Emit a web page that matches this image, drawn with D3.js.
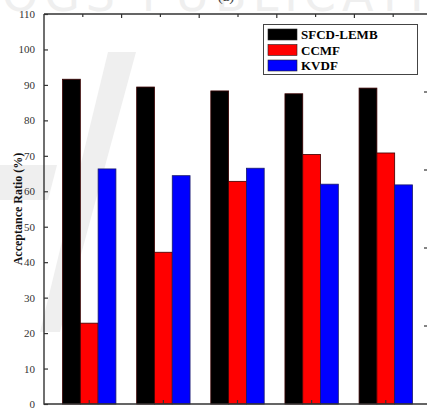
<!DOCTYPE html>
<html>
<head>
<meta charset="utf-8">
<script src="https://cdn.jsdelivr.net/npm/d3@7"></script>
<style>
  body { margin: 0; background: #fff; }
  svg { display: block; }
</style>
</head>
<body>
<svg id="svg" width="427" height="410"></svg>
<script>
// data
const groups = ['g1', 'g2', 'g3', 'g4', 'g5'];
const series = ['SFCD-LEMB', 'CCMF', 'KVDF'];
const colors = ['#000000', '#ff0000', '#0000ff'];
const sfcdLemb = [91.6, 89.4, 88.3, 87.5, 89.1];
const ccmf = [22.8, 42.8, 62.8, 70.4, 70.8];
const kvdf = [66.3, 64.4, 66.5, 62.0, 61.8];
const yTicks = [0, 10, 20, 30, 40, 50, 60, 70, 80, 90, 100, 110];

const values = [sfcdLemb, ccmf, kvdf];

const svg = d3.select('#svg');
const margin = { left: 44, top: 14, right: 431, bottom: 404 };

// faint watermark in the background
const wm = svg.append('g').attr('fill', '#efefef');
wm.append('path')
  .attr('d', 'M108,52 L136,52 L60,332 L40,332 Z');
wm.append('path')
  .attr('d', 'M0,165 L57,165 L48,200 L0,200 Z');
wm.append('text')
  .attr('x', 2).attr('y', 11)
  .attr('font-family', 'DejaVu Sans, sans-serif')
  .attr('font-size', 46)
  .attr('letter-spacing', 6)
  .text('OGS PUBLICATIONS');

// "(a)" label, cut off at the top
svg.append('text')
  .attr('x', 226).attr('y', 1)
  .attr('text-anchor', 'middle')
  .attr('font-family', 'Liberation Serif, serif')
  .attr('font-size', 15)
  .attr('fill', '#444')
  .text('(a)');

const y = d3.scaleLinear().domain([0, 110]).range([margin.bottom, margin.top]);
const x0 = d3.scaleBand().domain(groups)
  .range([margin.left, margin.right])
  .paddingInner(0.28).paddingOuter(0.25);
const x1 = d3.scaleBand().domain(series).range([0, x0.bandwidth()]);

// bars
const g = svg.append('g');
groups.forEach((grp, i) => {
  series.forEach((s, j) => {
    g.append('rect')
      .attr('x', x0(grp) + x1(s))
      .attr('y', y(values[j][i]))
      .attr('width', x1.bandwidth())
      .attr('height', y(0) - y(values[j][i]))
      .attr('fill', colors[j])
      .attr('stroke', j === 2 ? '#1a1a6a' : '#3a0000')
      .attr('stroke-width', 0.8);
  });
});

const axisColor = '#333';

// left axis
const yAxis = svg.append('g')
  .attr('transform', `translate(${margin.left},0)`)
  .call(d3.axisLeft(y).tickValues(yTicks).tickSize(-4).tickPadding(9));
yAxis.select('.domain').remove();
yAxis.selectAll('line').attr('stroke', axisColor).attr('stroke-width', 1.2);
yAxis.selectAll('text')
  .attr('font-family', 'Liberation Serif, serif')
  .attr('font-size', 11)
  .attr('fill', '#333');

// bottom ticks at group centres
const xAxis = svg.append('g')
  .attr('transform', `translate(0,${margin.bottom})`)
  .call(d3.axisBottom(x0).tickSize(-4).tickFormat(''));
xAxis.select('.domain').remove();
xAxis.selectAll('line').attr('stroke', axisColor).attr('stroke-width', 1.2);

// top axis with its own minor/major ticks
const xt = d3.scaleLinear().domain([0, 10]).range([margin.left, 432]);
const topAxis = svg.append('g').attr('transform', `translate(0,${margin.top})`);
topAxis.selectAll('line')
  .data(d3.range(1, 10))
  .enter().append('line')
  .attr('x1', d => xt(d)).attr('x2', d => xt(d))
  .attr('y1', 0).attr('y2', d => d % 2 === 0 ? 4 : 3)
  .attr('stroke', axisColor).attr('stroke-width', 1.2);

// right axis (just out of frame) with its ticks
const yr = d3.scaleLinear().domain([0, 5]).range([margin.bottom, margin.top]);
svg.append('g').selectAll('line')
  .data(d3.range(1, 5))
  .enter().append('line')
  .attr('x1', 424).attr('x2', 431)
  .attr('y1', d => yr(d)).attr('y2', d => yr(d))
  .attr('stroke', axisColor).attr('stroke-width', 1.2);

// frame
svg.append('path')
  .attr('d', `M${margin.left},${margin.top} V${margin.bottom} H431 M${margin.left},${margin.top} H431`)
  .attr('fill', 'none')
  .attr('stroke', axisColor)
  .attr('stroke-width', 1.4);

// y label
svg.append('text')
  .attr('transform', 'translate(22,209) rotate(-90)')
  .attr('text-anchor', 'middle')
  .attr('font-family', 'Liberation Serif, serif')
  .attr('font-weight', 'bold')
  .attr('font-size', 12)
  .attr('fill', '#111')
  .text('Acceptance Ratio (%)');

// legend
const legend = svg.append('g');
legend.append('rect')
  .attr('x', 263.5).attr('y', 24.5)
  .attr('width', 154).attr('height', 50)
  .attr('fill', '#fff')
  .attr('stroke', '#444').attr('stroke-width', 1);
series.forEach((s, j) => {
  const ly = 29 + j * 15.5;
  legend.append('rect')
    .attr('x', 268).attr('y', ly)
    .attr('width', 29).attr('height', 11)
    .attr('fill', colors[j])
    .attr('stroke', '#222').attr('stroke-width', 0.6);
  legend.append('text')
    .attr('x', 301).attr('y', ly + 10)
    .attr('font-family', 'Liberation Serif, serif')
    .attr('font-weight', 'bold')
    .attr('font-size', 13)
    .attr('fill', '#000')
    .text(s);
});
</script>
</body>
</html>
